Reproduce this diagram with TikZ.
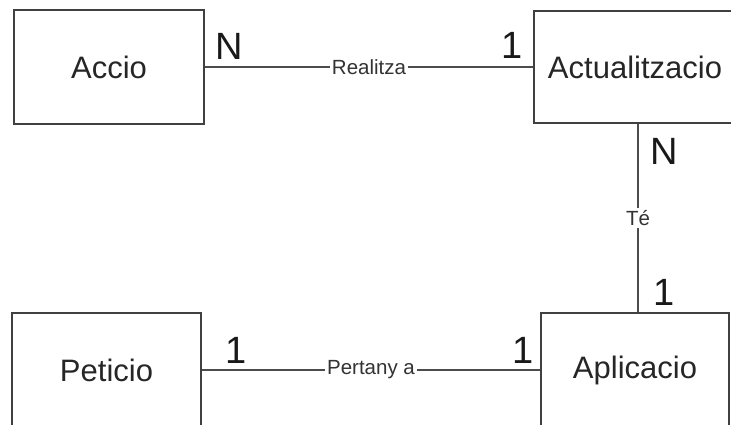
\documentclass[tikz,border=0pt]{standalone}
\usepackage{fontspec}
\setmainfont{Liberation Sans}
\begin{document}
\begin{tikzpicture}[x=1pt,y=-1pt,
  entity/.style={draw=black!75, line width=1.3pt, fill=white, inner sep=0pt,
    font=\fontsize{31}{36}\selectfont, text=black!85},
  rel/.style={draw=black!70, line width=1.3pt},
  rellabel/.style={fill=white, inner sep=2pt,
    font=\fontsize{20.5}{24}\selectfont, text=black!80},
  card/.style={anchor=base, inner sep=0pt,
    font=\fontsize{38}{44}\selectfont, text=black!90}]
\useasboundingbox (0,0) rectangle (731,424);
\clip (0,0) rectangle (731,424);

% entities
\node[entity, minimum width=190, minimum height=114] (accio) at (109,67) {Accio};
\node[entity, minimum width=202, minimum height=112] (actual) at (635,67) {Actualitzacio};
\node[entity, minimum width=189, minimum height=114] (peticio) at (106.5,370) {Peticio};
\node[entity, minimum width=188, minimum height=114] (aplic) at (635,370) {Aplicacio};

% relationships
\draw[rel] (accio.east) -- node[rellabel] {Realitza} (actual.west);
\draw[rel] (peticio.east) -- node[rellabel] {Pertany a} (aplic.west);
\draw[rel] ([xshift=3]actual.south) -- node[rellabel] {Té} ([xshift=3]aplic.north);

% cardinalities
\node[card] (cardAccio) at (229,59) {N};
\node[card] (cardActualH) at (512.5,58) {1};
\node[card] (cardPeticio) at (236.5,363) {1};
\node[card] (cardAplicH) at (523.5,363) {1};
\node[card] (cardActualV) at (664,164) {N};
\node[card] (cardAplicV) at (664.5,305) {1};
\end{tikzpicture}
\end{document}
